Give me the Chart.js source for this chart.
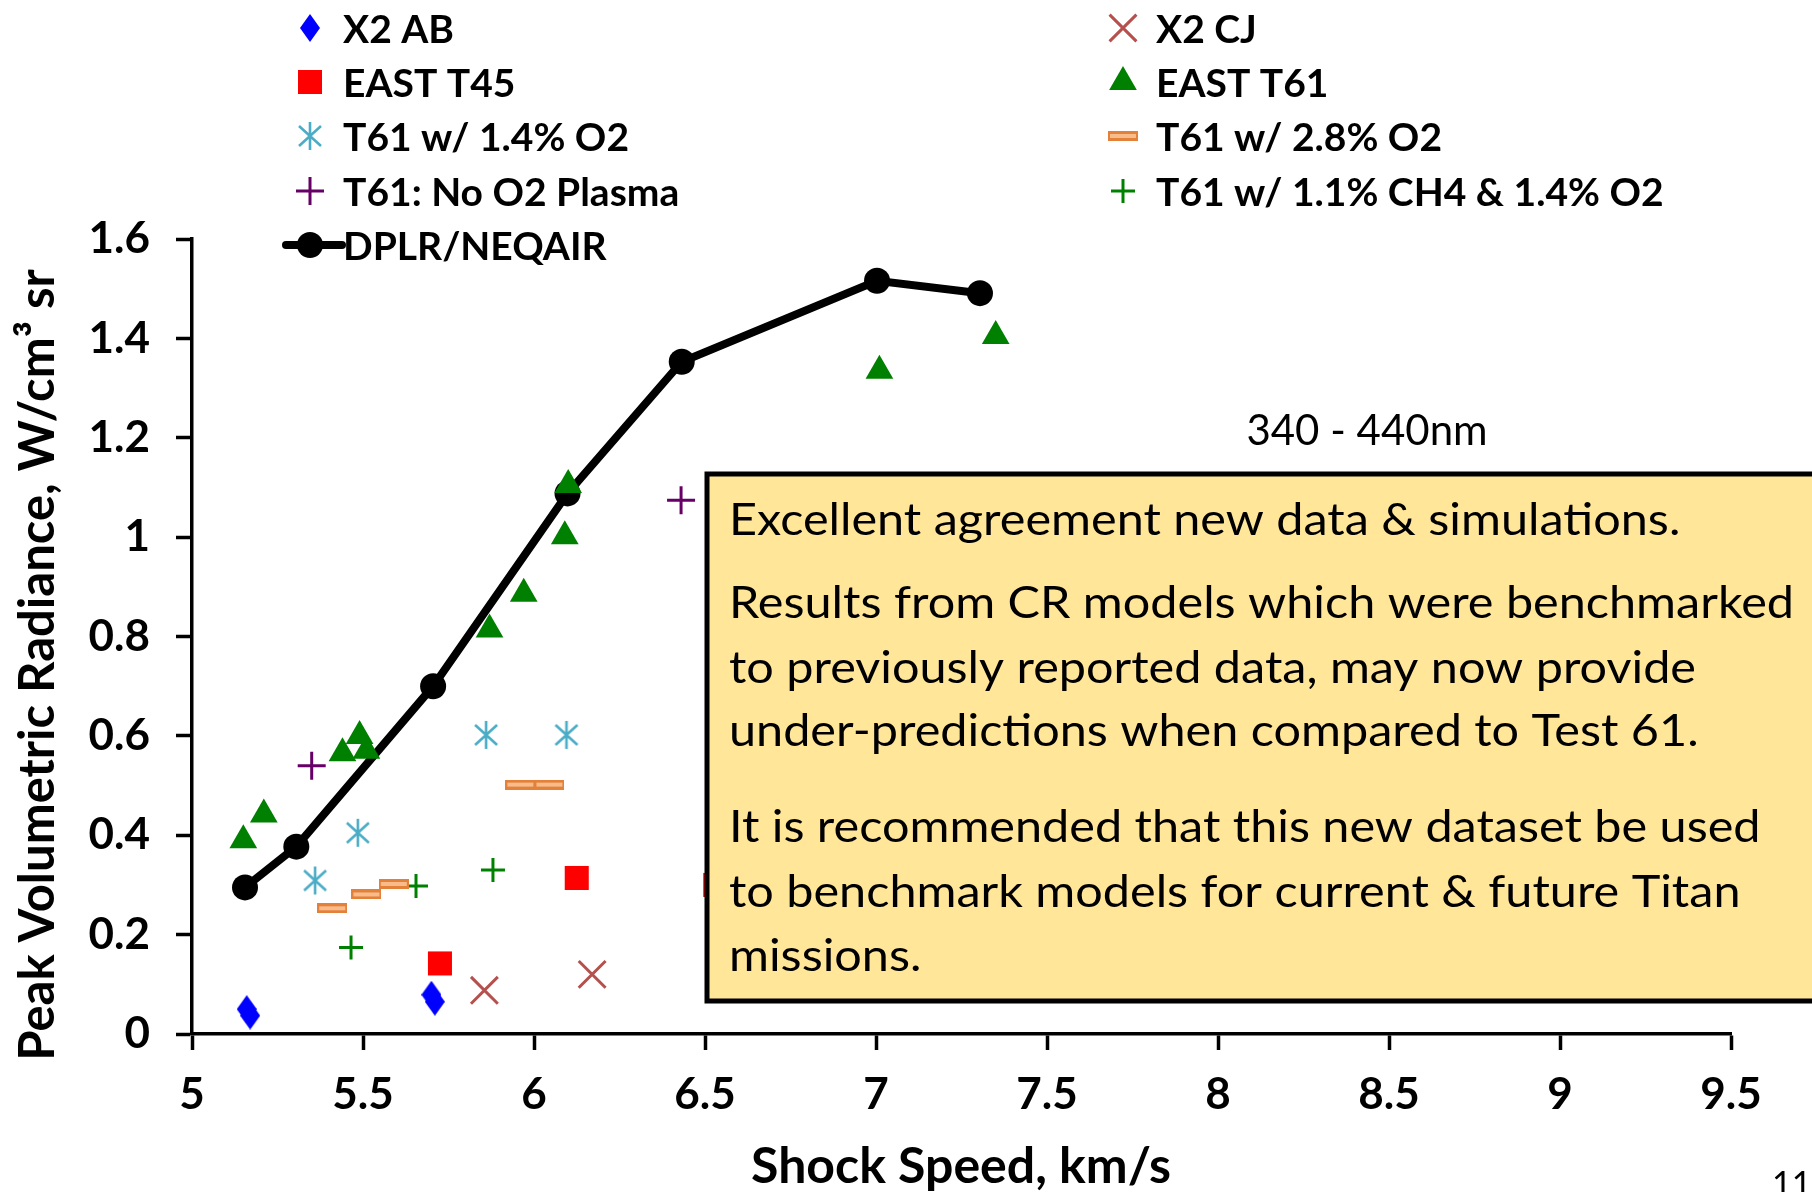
<!DOCTYPE html>
<html>
<head>
<meta charset="utf-8" />
<title>Peak volumetric radiance vs shock speed</title>
<script src="https://cdn.jsdelivr.net/npm/chart.js"></script>
<style>
  html, body { margin: 0; padding: 0; background: #fff; }
  #wrap { width: 1812px; height: 1192px; }
</style>
</head>
<body>
<div id="wrap"><canvas id="radChart" width="1812" height="1192"></canvas></div>
<script>
// shock speed (km/s) / peak radiance (W/cm3 sr)
var x2abSpeed = [5.16, 5.17, 5.70, 5.71]
var x2abRad = [0.050, 0.037, 0.079, 0.065]
var x2cjSpeed = [5.855, 6.17]
var x2cjRad = [0.088, 0.12]
var t45Speed = [5.725, 6.125, 6.53]
var t45Rad = [0.142, 0.314, 0.30]
var t61Speed = [5.15, 5.21, 5.44, 5.49, 5.51, 5.87, 5.97, 6.09, 6.10, 7.01, 7.35]
var t61Rad = [0.39, 0.442, 0.565, 0.60, 0.57, 0.814, 0.886, 1.002, 1.105, 1.335, 1.405]
var o2lowSpeed = [5.36, 5.485, 5.86, 6.095]
var o2lowRad = [0.309, 0.405, 0.602, 0.602]
var o2highSpeed = [5.41, 5.51, 5.59, 5.96, 6.045]
var o2highRad = [0.253, 0.281, 0.302, 0.502, 0.502]
var noO2Speed = [5.35, 6.43]
var noO2Rad = [0.54, 1.074]
var ch4Speed = [5.465, 5.655, 5.88]
var ch4Rad = [0.174, 0.298, 0.33]
var dplrSpeed = [5.155, 5.305, 5.705, 6.098, 6.432, 7.003, 7.304]
var dplrRad = [0.295, 0.377, 0.700, 1.088, 1.353, 1.516, 1.491]

var xTicks = [5, 5.5, 6, 6.5, 7, 7.5, 8, 8.5, 9, 9.5]
var yTicks = [0, 0.2, 0.4, 0.6, 0.8, 1, 1.2, 1.4, 1.6]

var seriesNames = ['X2 AB', 'X2 CJ', 'EAST T45', 'EAST T61', 'T61 w/ 1.4% O2', 'T61 w/ 2.8% O2',
  'T61: No O2 Plasma', 'T61 w/ 1.1% CH4 & 1.4% O2', 'DPLR/NEQAIR']

var boxLines = [
  'Excellent agreement new data & simulations.',
  'Results from CR models which were benchmarked',
  'to previously reported data, may now provide',
  'under-predictions when compared to Test 61.',
  'It is recommended that this new dataset be used',
  'to benchmark models for current & future Titan',
  'missions.'
]

function pts(xs, ys) {
  return xs.map(function(x, i) { return { x: x, y: ys[i] } })
}

// small canvases for the excel-style markers chart.js doesn't have
function makeMarker(w, h, draw) {
  var c = document.createElement('canvas')
  c.width = w
  c.height = h
  draw(c.getContext('2d'), w, h)
  return c
}
var diamond = makeMarker(20, 28, function(g, w, h) {
  g.fillStyle = '#0000FF'
  g.beginPath()
  g.moveTo(w / 2, 0); g.lineTo(w, h / 2); g.lineTo(w / 2, h); g.lineTo(0, h / 2)
  g.closePath()
  g.fill()
})
var asterisk = makeMarker(28, 30, function(g, w, h) {
  g.strokeStyle = '#4BACC6'
  g.lineWidth = 2.6
  g.beginPath()
  g.moveTo(w / 2, 1); g.lineTo(w / 2, h - 1)
  g.moveTo(3, 5); g.lineTo(w - 3, h - 5)
  g.moveTo(w - 3, 5); g.lineTo(3, h - 5)
  g.stroke()
})
var dash = makeMarker(30, 10, function(g, w, h) {
  g.fillStyle = '#E3803A'
  g.fillRect(0, 0, w, h)
  g.fillStyle = '#F8BC8A'
  g.fillRect(2, 3, w - 4, h - 6)
})

function drawText(g, str, x, y, font, align, sx) {
  g.save()
  g.font = font
  g.fillStyle = '#000'
  g.textAlign = align || 'left'
  g.textBaseline = 'middle'
  g.translate(x, y)
  g.scale(sx || 1, 1)
  g.fillText(str, 0, 0)
  g.restore()
}

var legendSlots = [[310, 28], [1123, 28], [310, 82], [1123, 82], [310, 136], [1123, 136],
  [310, 191], [1123, 191], [310, 245]]

var extras = {
  id: 'extras',
  afterDraw: function(chart) {
    var g = chart.ctx

    // legend, two columns
    chart.data.datasets.forEach(function(ds, i) {
      var x = legendSlots[i][0], y = legendSlots[i][1]
      g.save()
      if (ds.showLine) {
        g.strokeStyle = ds.borderColor
        g.lineWidth = ds.borderWidth
        g.lineCap = 'round'
        g.beginPath(); g.moveTo(x - 24, y); g.lineTo(x + 32, y); g.stroke()
      }
      g.fillStyle = ds.pointBackgroundColor
      g.strokeStyle = ds.pointBorderColor
      g.lineWidth = ds.pointBorderWidth
      Chart.helpers.drawPoint(g, {
        pointStyle: ds.pointStyle, radius: ds.pointRadius, rotation: 0, borderWidth: ds.pointBorderWidth
      }, x, y)
      g.restore()
      drawText(g, ds.label, x + 33, y + 2, 'bold 39px Lato', 'left', 1)
    })

    drawText(g, '340 - 440nm', 1367, 431, '42px Lato', 'center', 1)

    // note box
    g.save()
    g.fillStyle = '#FFE699'
    g.strokeStyle = '#000'
    g.lineWidth = 5
    g.fillRect(707, 474, 1200, 527)
    g.strokeRect(707, 474, 1200, 527)
    g.font = '45px Lato'
    var widest = Math.max.apply(null, boxLines.map(function(s) { return g.measureText(s).width }))
    g.restore()
    var sx = 1065 / widest
    var lineY = [520, 603, 668, 731, 827, 892, 956]
    boxLines.forEach(function(s, i) {
      drawText(g, s, 729, lineY[i], '45px Lato', 'left', sx)
    })

    // axis titles
    drawText(g, 'Shock Speed, km/s', 961, 1167, 'bold 50px Lato', 'center', 1)
    g.save()
    g.translate(38, 665)
    g.rotate(-Math.PI / 2)
    drawText(g, 'Peak Volumetric Radiance, W/cm\u00B3 sr', 0, 0, 'bold 49px Lato', 'center', 1)
    g.restore()

    g.save()
    g.font = '34px Lato'
    g.fillStyle = '#000'
    g.textBaseline = 'top'
    g.fillText('11', 1772, 1168)
    g.restore()
  }
}

var tickFont = { family: 'Lato', size: 44, weight: 'bold' }
function plainTick(v) { return String(v) }

var ctx = document.getElementById('radChart').getContext('2d')
new Chart(ctx, {
  type: 'scatter',
  data: {
    datasets: [
      { label: seriesNames[0], data: pts(x2abSpeed, x2abRad), pointStyle: diamond, pointRadius: 13,
        pointBackgroundColor: '#0000FF', pointBorderColor: '#0000FF', pointBorderWidth: 0 },
      { label: seriesNames[1], data: pts(x2cjSpeed, x2cjRad), pointStyle: 'crossRot', pointRadius: 19,
        pointBackgroundColor: '#B5504D', pointBorderColor: '#B5504D', pointBorderWidth: 3 },
      { label: seriesNames[2], data: pts(t45Speed, t45Rad), pointStyle: 'rect', pointRadius: 17,
        pointBackgroundColor: '#FF0000', pointBorderColor: '#FF0000', pointBorderWidth: 0 },
      { label: seriesNames[3], data: pts(t61Speed, t61Rad), pointStyle: 'triangle', pointRadius: 16,
        pointBackgroundColor: '#008000', pointBorderColor: '#008000', pointBorderWidth: 0 },
      { label: seriesNames[4], data: pts(o2lowSpeed, o2lowRad), pointStyle: asterisk, pointRadius: 14,
        pointBackgroundColor: '#4BACC6', pointBorderColor: '#4BACC6', pointBorderWidth: 0 },
      { label: seriesNames[5], data: pts(o2highSpeed, o2highRad), pointStyle: dash, pointRadius: 13,
        pointBackgroundColor: '#E3803A', pointBorderColor: '#E3803A', pointBorderWidth: 0 },
      { label: seriesNames[6], data: pts(noO2Speed, noO2Rad), pointStyle: 'cross', pointRadius: 14,
        pointBackgroundColor: '#660066', pointBorderColor: '#660066', pointBorderWidth: 3 },
      { label: seriesNames[7], data: pts(ch4Speed, ch4Rad), pointStyle: 'cross', pointRadius: 12,
        pointBackgroundColor: '#008000', pointBorderColor: '#008000', pointBorderWidth: 3 },
      { label: seriesNames[8], data: pts(dplrSpeed, dplrRad), showLine: true,
        borderColor: '#000', backgroundColor: '#000', borderWidth: 8,
        pointStyle: 'circle', pointRadius: 13,
        pointBackgroundColor: '#000', pointBorderColor: '#000', pointBorderWidth: 0 }
    ]
  },
  options: {
    responsive: false,
    animation: false,
    layout: { padding: { top: 239, right: 81, left: 0, bottom: 0 } },
    plugins: {
      legend: { display: false },
      tooltip: { enabled: false }
    },
    scales: {
      x: {
        type: 'linear', min: 5, max: 9.5,
        afterBuildTicks: function(axis) { axis.ticks = xTicks.map(function(v) { return { value: v } }) },
        afterFit: function(axis) { axis.height = 158 },
        grid: { drawOnChartArea: false, tickLength: 16, tickWidth: 3.5, tickColor: '#000' },
        border: { color: '#000', width: 3.5 },
        ticks: { color: '#000', font: tickFont, padding: 18, maxRotation: 0, autoSkip: false, callback: plainTick }
      },
      y: {
        type: 'linear', min: 0, max: 1.6,
        afterBuildTicks: function(axis) { axis.ticks = yTicks.map(function(v) { return { value: v } }) },
        afterFit: function(axis) { axis.width = 192 },
        grid: { drawOnChartArea: false, tickLength: 16, tickWidth: 3.5, tickColor: '#000' },
        border: { color: '#000', width: 3.5 },
        ticks: { color: '#000', font: tickFont, padding: 26, autoSkip: false, callback: plainTick }
      }
    }
  },
  plugins: [extras]
})
</script>
</body>
</html>
